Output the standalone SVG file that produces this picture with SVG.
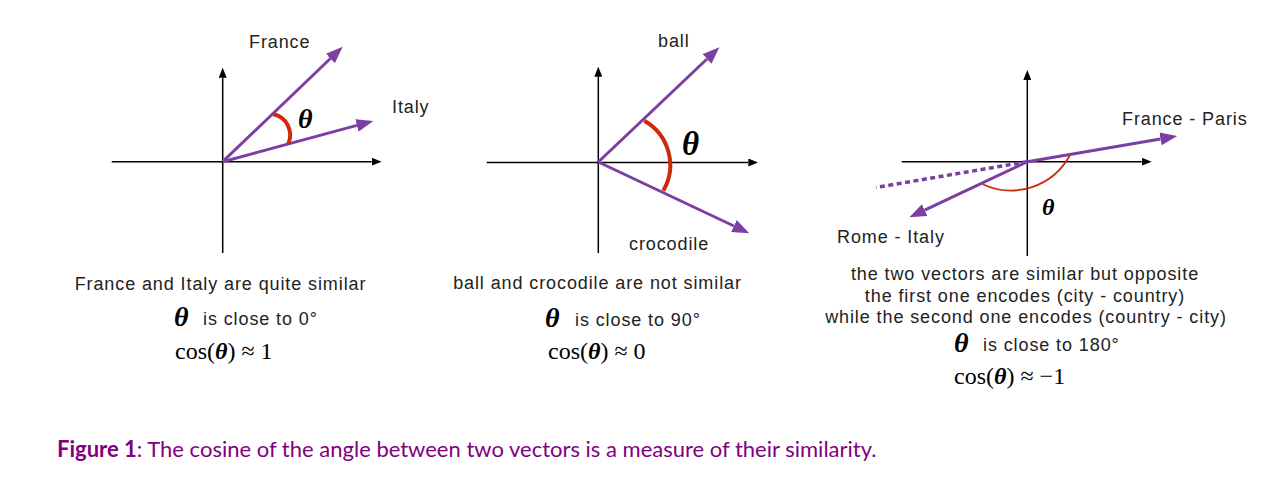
<svg xmlns="http://www.w3.org/2000/svg" width="1263" height="491" viewBox="0 0 1263 491">
<style>
.ax{stroke:#000;stroke-width:1.5;fill:none;marker-end:url(#ah)}
.vec{stroke:#7b3fa2;stroke-width:3;fill:none;marker-end:url(#vh)}
.dot{stroke:#7b3fa2;stroke-width:3.5;fill:none;stroke-dasharray:5 3.5}
.arc{stroke:#d02a0c;stroke-width:4;fill:none}
.arc2{stroke:#d02a0c;stroke-width:1.8;fill:none}
.lbl{font-family:"Liberation Sans",Arial,sans-serif;font-size:18px;fill:#222;letter-spacing:0.9px}
.th{font-family:"Liberation Serif","Times New Roman",serif;font-style:italic;font-weight:bold;fill:#000}
.thb{font-family:"Liberation Serif","Times New Roman",serif;font-style:italic;font-weight:bold;font-size:28px;fill:#000}
.math{font-family:"Liberation Serif","Times New Roman",serif;font-size:24px;fill:#000}
.cap{font-family:Lato,"Liberation Sans",sans-serif;font-size:22px;fill:#800080}
</style>
<defs>
<marker id="ah" markerUnits="userSpaceOnUse" markerWidth="10" markerHeight="8" refX="0" refY="4" orient="auto" viewBox="0 0 10 8"><path d="M0,0 L10,4 L0,8 z" fill="#000"/></marker>
<marker id="vh" markerUnits="userSpaceOnUse" markerWidth="17" markerHeight="13" refX="0" refY="6.5" orient="auto" viewBox="0 0 17 13"><path d="M0,0 L17,6.5 L0,13 z" fill="#7b3fa2"/></marker>
</defs>

<g id="panel1">
<g id="connectors1">
<line class="ax" x1="222.7" y1="253" x2="222.7" y2="77.7"/>
<line class="ax" x1="111.7" y1="161.7" x2="371.7" y2="161.7"/>
<line class="vec" x1="222.7" y1="161.7" x2="330.4" y2="58.5"/>
<line class="vec" x1="222.7" y1="161.7" x2="356.9" y2="125.4"/>
<path class="arc" d="M273.3,114.3 A21,21 0 0 1 288.3,143.5"/>
</g>
<text class="lbl" x="249" y="48">France</text>
<text class="lbl" x="392" y="113">Italy</text>
<text class="th" x="298" y="128" font-size="28">θ</text>
<text class="lbl" x="220.5" y="290" text-anchor="middle">France and Italy are quite similar</text>
<text class="thb" x="174" y="326">θ</text>
<text class="lbl" x="203" y="325">is close to 0°</text>
<text class="math" x="175" y="359">cos(<tspan font-weight="bold" font-style="italic">θ</tspan>) ≈ 1</text>
</g>

<g id="panel2">
<g id="connectors2">
<line class="ax" x1="598.3" y1="253" x2="598.3" y2="76.7"/>
<line class="ax" x1="486.7" y1="162.5" x2="748.3" y2="162.5"/>
<line class="vec" x1="598.3" y1="162" x2="707" y2="59"/>
<line class="vec" x1="598.3" y1="162" x2="733.9" y2="226"/>
<path class="arc" d="M644.3,120.7 A51,51 0 0 1 663.3,190.7"/>
</g>
<text class="lbl" x="658" y="47">ball</text>
<text class="lbl" x="629" y="250">crocodile</text>
<text class="th" x="682" y="155" font-size="33">θ</text>
<text class="lbl" x="597.5" y="289" text-anchor="middle">ball and crocodile are not similar</text>
<text class="thb" x="545" y="327">θ</text>
<text class="lbl" x="575" y="326">is close to 90°</text>
<text class="math" x="548" y="359">cos(<tspan font-weight="bold" font-style="italic">θ</tspan>) ≈ 0</text>
</g>

<g id="panel3">
<g id="connectors3">
<line class="ax" x1="1027.3" y1="256" x2="1027.3" y2="80"/>
<line class="ax" x1="901.7" y1="161.7" x2="1141.7" y2="161.7"/>
<line class="dot" x1="1027.3" y1="161.7" x2="876" y2="187.5"/>
<line class="vec" x1="1027.3" y1="161.7" x2="1160.5" y2="138.9"/>
<line class="vec" x1="1027.3" y1="161.7" x2="924.7" y2="210.1"/>
<path class="arc2" d="M982.7,184.3 A67,67 0 0 0 1070,155"/>
</g>
<text class="lbl" x="1122" y="125">France - Paris</text>
<text class="lbl" x="837" y="243">Rome - Italy</text>
<text class="th" x="1042" y="215" font-size="24">θ</text>
<text class="lbl" x="1025" y="280" text-anchor="middle">the two vectors are similar but opposite</text>
<text class="lbl" x="1025" y="302" text-anchor="middle">the first one encodes (city - country)</text>
<text class="lbl" x="1026" y="323" text-anchor="middle">while the second one encodes (country - city)</text>
<text class="thb" x="954" y="352">θ</text>
<text class="lbl" x="983" y="351">is close to 180°</text>
<text class="math" x="954" y="384">cos(<tspan font-weight="bold" font-style="italic">θ</tspan>) ≈ −1</text>
</g>

<text class="cap" x="57" y="457"><tspan font-weight="bold">Figure 1</tspan>: The cosine of the angle between two vectors is a measure of their similarity.</text>
</svg>
